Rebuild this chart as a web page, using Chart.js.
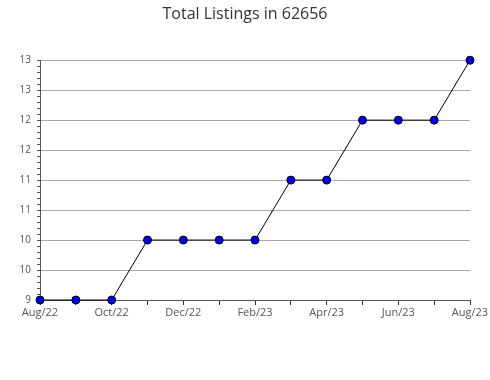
<!DOCTYPE html>
<html>
<head>
<meta charset="utf-8">
<script src="https://cdn.jsdelivr.net/npm/chart.js@4.4.0/dist/chart.umd.min.js"></script>
<style>
  html, body { margin: 0; padding: 0; background: #fff; }
  #wrap { width: 490px; height: 380px; }
</style>
</head>
<body>
<div id="wrap"><canvas id="grafico"></canvas></div>
<script>
const meses = ['Aug/22', 'Sep/22', 'Oct/22', 'Nov/22', 'Dec/22', 'Jan/23', 'Feb/23', 'Mar/23', 'Apr/23', 'May/23', 'Jun/23', 'Jul/23', 'Aug/23'];
const listagens = [9, 9, 9, 10, 10, 10, 10, 11, 11, 12, 12, 12, 13];
const yTicks = ['9', '10', '10', '11', '11', '12', '12', '13', '13'];

const fonte = '"Open Sans", "Noto Sans", sans-serif';

function ehMaior(v) {
  return Math.abs(v * 2 - Math.round(v * 2)) < 1e-6;
}

new Chart(document.getElementById('grafico'), {
  type: 'line',
  data: {
    labels: meses,
    datasets: [{
      label: 'Total Listings',
      data: listagens,
      clip: false,
      borderColor: '#000',
      borderWidth: 1,
      backgroundColor: '#0000f0',
      pointBackgroundColor: '#0000f0',
      pointBorderColor: '#000',
      pointBorderWidth: 1,
      pointRadius: 4,
      tension: 0
    }]
  },
  options: {
    responsive: true,
    maintainAspectRatio: false,
    animation: false,
    layout: { padding: { left: 20, right: 20, top: 0, bottom: 60 } },
    plugins: {
      legend: { display: false },
      tooltip: { enabled: false },
      title: {
        display: true,
        text: 'Total Listings in 62656',
        color: '#333',
        font: { family: fonte, size: 16, weight: 'normal' },
        padding: { top: 5, bottom: 36 }
      }
    },
    scales: {
      x: {
        offset: false,
        grid: {
          drawOnChartArea: false,
          drawTicks: true,
          tickLength: 5,
          tickColor: '#333'
        },
        border: { display: true, color: '#555' },
        ticks: {
          autoSkip: false,
          maxRotation: 0,
          padding: 1,
          color: '#555',
          font: { family: fonte, size: 11 },
          callback: function (v, i) { return i % 2 === 0 ? meses[i] : ''; }
        },
        afterFit: function (s) { s.height = 20; }
      },
      y: {
        min: 9,
        max: 13,
        grid: {
          color: function (c) { return c.tick && ehMaior(c.tick.value) ? '#aaa' : 'rgba(0,0,0,0)'; },
          tickColor: '#555',
          tickLength: 3
        },
        border: { display: true, color: '#555' },
        ticks: {
          stepSize: 0.1,
          maxTicksLimit: 100,
          autoSkip: false,
          padding: 6,
          color: '#555',
          font: { family: fonte, size: 10 },
          callback: function (v) {
            if (!ehMaior(v)) return '';
            return yTicks[Math.round((v - 9) * 2)];
          }
        },
        afterFit: function (s) { s.width = 20; }
      }
    }
  }
});
</script>
</body>
</html>
